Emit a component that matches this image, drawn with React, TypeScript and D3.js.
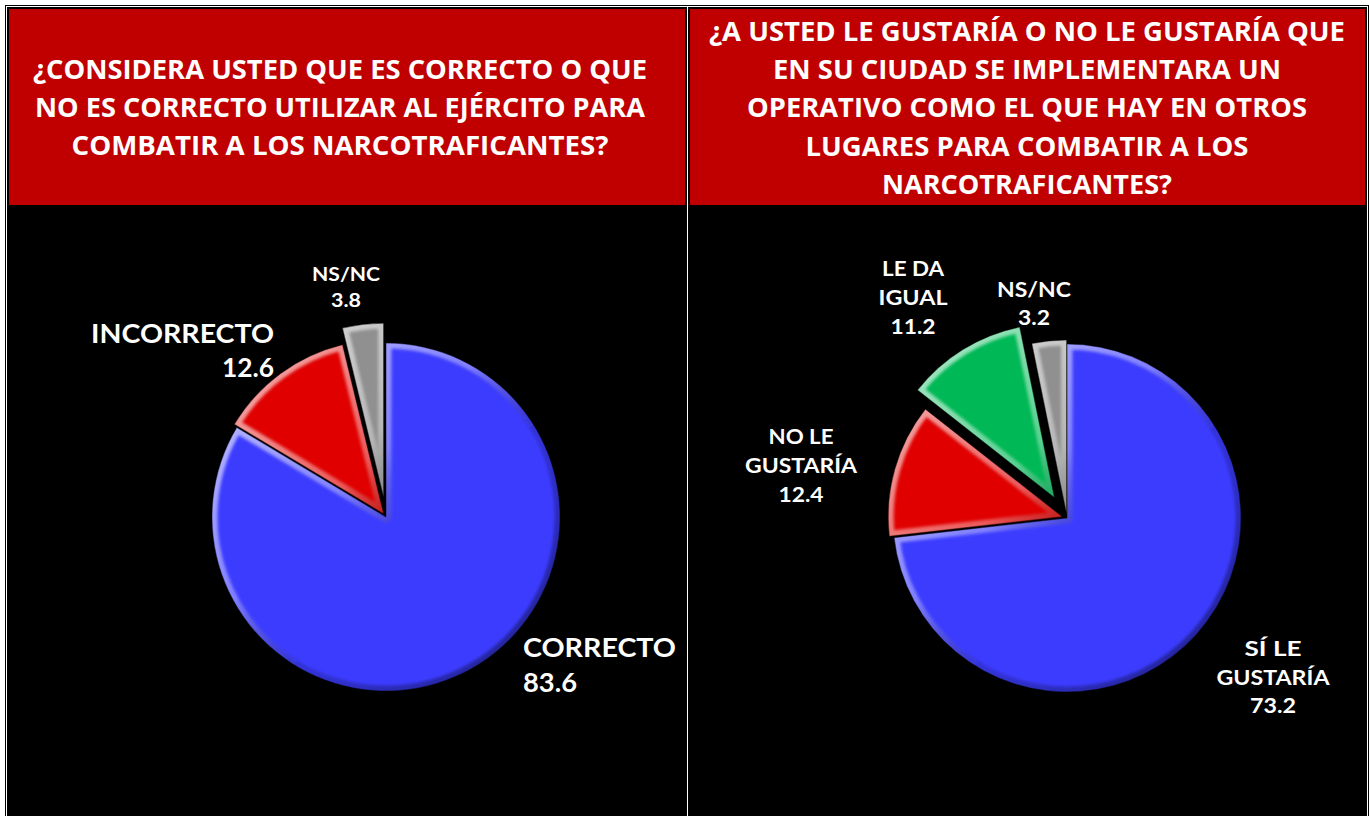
import * as d3 from 'd3';

const W = 1369;
const H = 816;

// chart data
const leftCategories = ['CORRECTO', 'INCORRECTO', 'NS/NC'];
const leftValues = [83.6, 12.6, 3.8];
const leftColors = ['#3c3cff', '#e00000', '#909090'];

const rightCategories = ['SÍ LE\nGUSTARÍA', 'NO LE\nGUSTARÍA', 'LE DA\nIGUAL', 'NS/NC'];
const rightValues = [73.2, 12.4, 11.2, 3.2];
const rightColors = ['#3c3cff', '#e00000', '#00b855', '#909090'];

const leftTitle = [
  '¿CONSIDERA USTED QUE ES CORRECTO O QUE',
  'NO ES CORRECTO UTILIZAR AL EJÉRCITO PARA',
  'COMBATIR A LOS NARCOTRAFICANTES?',
];
const rightTitle = [
  '¿A USTED LE GUSTARÍA O NO LE GUSTARÍA QUE',
  'EN SU CIUDAD SE IMPLEMENTARA UN',
  'OPERATIVO COMO EL QUE HAY EN OTROS',
  'LUGARES PARA COMBATIR A LOS',
  'NARCOTRAFICANTES?',
];

// layout
const RADIUS = 174;
const leftPie = { cx: 386, cy: 517, explode: [0, 4, 20] };
const rightPie = { cx: 1067, cy: 518, explode: [0, 5, 24, 4] };

const leftTitleLayout = { cx: 340, y0: 79, step: 38, widths: [614, 610, 537] };
const rightTitleLayout = { cx: 1027, y0: 41, step: 38.2, widths: [636, 508, 560, 443, 290] };

interface LabelLayout {
  x: number;
  y0: number;
  step: number;
  anchor: string;
  size: number;
  widths: number[];
}

const leftLabelLayout: LabelLayout[] = [
  { x: 523, y0: 657, step: 35, anchor: 'start', size: 27, widths: [153, 54] },
  { x: 274, y0: 343, step: 34, anchor: 'end', size: 27, widths: [183, 52] },
  { x: 346, y0: 281, step: 26, anchor: 'middle', size: 19, widths: [68, 30] },
];
const rightLabelLayout: LabelLayout[] = [
  { x: 1273, y0: 656, step: 28.5, anchor: 'middle', size: 20, widths: [57, 113, 46] },
  { x: 801, y0: 444, step: 29, anchor: 'middle', size: 20, widths: [65, 112, 45] },
  { x: 913, y0: 276, step: 29, anchor: 'middle', size: 20, widths: [62, 69, 45] },
  { x: 1034, y0: 297, step: 28, anchor: 'middle', size: 20, widths: [74, 32] },
];

const TITLE_FONT = '"Open Sans", "Noto Sans", sans-serif';
const LABEL_FONT = 'Lato, "Open Sans", sans-serif';

function Pie({
  id,
  values,
  categories,
  colors,
  cfg,
  labels,
}: {
  id: string;
  values: number[];
  categories: string[];
  colors: string[];
  cfg: { cx: number; cy: number; explode: number[] };
  labels: LabelLayout[];
}) {
  const pie = d3
    .pie<number>()
    .sort(null)
    .value(d => d)
    .startAngle(0)
    .endAngle(2 * Math.PI);
  const arc = d3.arc<d3.PieArcDatum<number>>().innerRadius(0).outerRadius(RADIUS);
  const arcs = pie(values);

  return (
    <g>
      <defs>
        {arcs.map((a, i) => (
          <clipPath key={i} id={`${id}-clip-${i}`}>
            <path d={arc(a) ?? ''} />
          </clipPath>
        ))}
      </defs>
      {arcs.map((a, i) => {
        const mid = (a.startAngle + a.endAngle) / 2;
        const dx = Math.sin(mid) * cfg.explode[i];
        const dy = -Math.cos(mid) * cfg.explode[i];
        const d = arc(a) ?? '';
        return (
          <g key={i} transform={`translate(${cfg.cx + dx},${cfg.cy + dy})`}>
            <path d={d} fill={colors[i]} />
            {/* bevel: light edge toward top-left, dark edge toward bottom-right */}
            <g clipPath={`url(#${id}-clip-${i})`}>
              <path
                d={d}
                fill="none"
                stroke="url(#bevel-grad)"
                strokeWidth={11}
                strokeLinejoin="round"
                filter="url(#soft)"
              />
            </g>
            <path d={d} fill="none" stroke="#000" strokeOpacity={0.45} strokeWidth={1} />
          </g>
        );
      })}
      {categories.map((cat, i) => {
        const lines = [...cat.split('\n'), values[i].toFixed(1)];
        const lay = labels[i];
        return (
          <g key={cat}>
            {lines.map((line, j) => (
              <text
                key={j}
                x={lay.x}
                y={lay.y0 + j * lay.step}
                textAnchor={lay.anchor}
                fontFamily={LABEL_FONT}
                fontWeight={700}
                fontSize={lay.size}
                fill="#fff"
                textLength={lay.widths[j]}
                lengthAdjust="spacingAndGlyphs"
              >
                {line}
              </text>
            ))}
          </g>
        );
      })}
    </g>
  );
}

function Title({
  lines,
  layout,
}: {
  lines: string[];
  layout: { cx: number; y0: number; step: number; widths: number[] };
}) {
  return (
    <g>
      {lines.map((line, i) => (
        <text
          key={i}
          x={layout.cx}
          y={layout.y0 + i * layout.step}
          textAnchor="middle"
          fontFamily={TITLE_FONT}
          fontWeight={700}
          fontSize={27}
          fill="#fff"
          textLength={layout.widths[i]}
          lengthAdjust="spacingAndGlyphs"
        >
          {line}
        </text>
      ))}
    </g>
  );
}

export default function App() {
  return (
    <div style={{ position: 'absolute', left: 0, top: 0 }}>
      <svg width={W} height={H} style={{ display: 'block' }}>
        <defs>
          <linearGradient
            id="bevel-grad"
            gradientUnits="userSpaceOnUse"
            x1={-RADIUS}
            y1={-RADIUS}
            x2={RADIUS}
            y2={RADIUS}
          >
            <stop offset="0%" stopColor="#fff" stopOpacity={0.75} />
            <stop offset="40%" stopColor="#fff" stopOpacity={0.35} />
            <stop offset="60%" stopColor="#000" stopOpacity={0.15} />
            <stop offset="100%" stopColor="#000" stopOpacity={0.5} />
          </linearGradient>
          <filter id="soft" x="-10%" y="-10%" width="120%" height="120%">
            <feGaussianBlur stdDeviation="1.5" />
          </filter>
        </defs>
        <rect x={0} y={0} width={W} height={H} fill="#fff" />
        <rect x={5.5} y={5.5} width={1363} height={H} fill="none" stroke="#000" strokeWidth={1} />
        {/* left cell */}
        <rect x={7} y={7} width={680} height={H} fill="#000" />
        <rect x={9} y={9} width={676} height={196} fill="#c00000" />
        {/* right cell */}
        <rect x={688} y={7} width={679} height={H} fill="#000" />
        <rect x={690} y={9} width={675} height={196} fill="#c00000" />

        <Title lines={leftTitle} layout={leftTitleLayout} />
        <Title lines={rightTitle} layout={rightTitleLayout} />

        <Pie
          id="left"
          values={leftValues}
          categories={leftCategories}
          colors={leftColors}
          cfg={leftPie}
          labels={leftLabelLayout}
        />
        <Pie
          id="right"
          values={rightValues}
          categories={rightCategories}
          colors={rightColors}
          cfg={rightPie}
          labels={rightLabelLayout}
        />
      </svg>
    </div>
  );
}
